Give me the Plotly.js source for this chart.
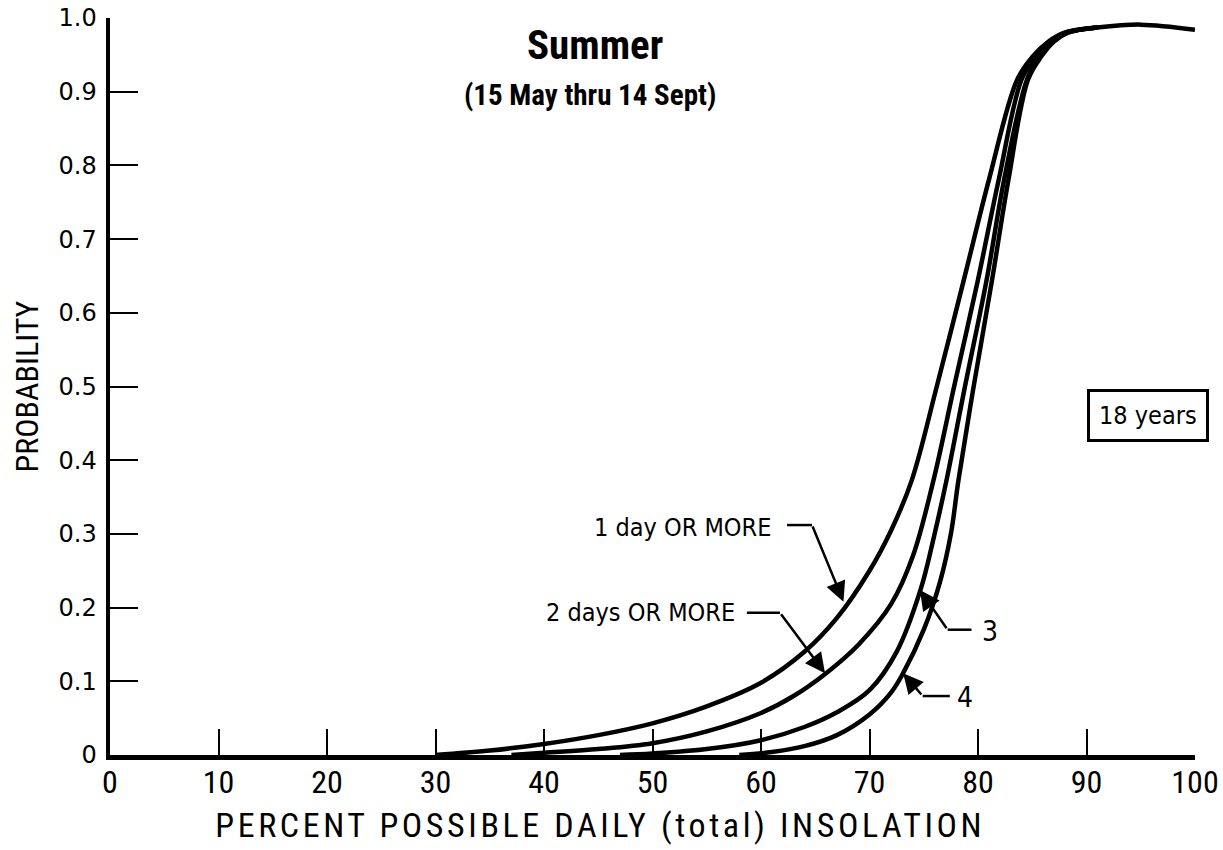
<!DOCTYPE html>
<html>
<head>
<meta charset="utf-8">
<script src="https://cdn.plot.ly/plotly-3.0.1.min.js"></script>
<style>
  html, body { margin: 0; padding: 0; background: #fff; }
  #chart { width: 1223px; height: 850px; }
</style>
</head>
<body>
<div id="chart"></div>
<script>
// Percent possible daily (total) insolation vs probability
var x1 = [30, 35, 40, 45, 50, 55, 60, 64, 67, 70, 72, 73.9, 76.2, 78.7, 81.0, 83.6, 85.0, 86.5, 88, 91, 95, 100];
var p1 = [0, 0.006, 0.015, 0.027, 0.043, 0.066, 0.098, 0.14, 0.186, 0.25, 0.305, 0.373, 0.5, 0.645, 0.78, 0.916, 0.947, 0.968, 0.98, 0.987, 0.991, 0.984];

var x2 = [37, 40, 45, 50, 55, 60, 63, 66, 69, 72, 74, 75.9, 77.8, 80.0, 81.9, 84.0, 85.3, 86.7, 88, 91];
var p2 = [0, 0.003, 0.008, 0.016, 0.032, 0.057, 0.08, 0.111, 0.15, 0.205, 0.27, 0.373, 0.5, 0.645, 0.78, 0.916, 0.948, 0.968, 0.98, 0.987];

var x3 = [47, 50, 55, 60, 64, 67, 70, 72.5, 74.7, 76, 77.1, 78.8, 80.8, 82.4, 84.5, 85.6, 86.9, 88.2, 91];
var p3 = [0, 0.002, 0.008, 0.02, 0.038, 0.058, 0.088, 0.14, 0.224, 0.3, 0.373, 0.5, 0.645, 0.78, 0.916, 0.947, 0.968, 0.98, 0.987];

var x4 = [58, 61, 64, 67, 70, 72, 73.1, 75, 76.5, 77.5, 78.2, 79.6, 81.3, 82.8, 84.6, 85.8, 87, 88.3, 91];
var p4 = [0, 0.004, 0.012, 0.027, 0.055, 0.085, 0.111, 0.17, 0.235, 0.30, 0.373, 0.5, 0.645, 0.78, 0.916, 0.947, 0.968, 0.98, 0.987];

var xTicks = [0, 10, 20, 30, 40, 50, 60, 70, 80, 90, 100];
var xTickText = ['0', '10', '20', '30', '40', '50', '60', '70', '80', '90', '100'];
var yTicks = [0, 0.1, 0.2, 0.3, 0.4, 0.5, 0.6, 0.7, 0.8, 0.9, 1.0];
var yTickText = ['0', '0.1', '0.2', '0.3', '0.4', '0.5', '0.6', '0.7', '0.8', '0.9', '1.0'];

// Callouts: label, label anchor, elbow start, elbow, arrow tip
var labels = ['1 day OR MORE', '2 days OR MORE', '3', '4'];
var labelX = [61.1, 57.8, 80.2, 77.9];
var labelP = [0.309, 0.193, 0.168, 0.078];
var labelAnchor = ['right', 'right', 'left', 'left'];
var legStartX = [62.4, 58.7, 79.4, 77.4];
var elbowX = [64.7, 61.75, 77.2, 74.9];
var elbowP = [0.312, 0.193, 0.170, 0.080];
var tipX = [67.6, 65.9, 74.65, 73.1];
var tipP = [0.208, 0.111, 0.224, 0.111];

var lineStyle = {color: '#000', width: 4.5, shape: 'spline', smoothing: 1.0};
function curve(x, y) {
  return {x: x, y: y, type: 'scatter', mode: 'lines', line: lineStyle, hoverinfo: 'skip', showlegend: false};
}
var data = [curve(x1, p1), curve(x2, p2), curve(x3, p3), curve(x4, p4)];

var COND = '"Roboto Condensed", "Liberation Sans Narrow", "DejaVu Sans Condensed", sans-serif';
var annFamily = '"DejaVu Sans Condensed", "DejaVu Sans", sans-serif';
var annotations = [];
var shapes = [];
for (var i = 0; i < labels.length; i++) {
  annotations.push({
    x: labelX[i], y: labelP[i], xref: 'x', yref: 'y', text: labels[i], showarrow: false,
    xanchor: labelAnchor[i], yanchor: 'middle',
    font: {family: annFamily, size: (i < 2 ? 25 : 28), color: '#000'}
  });
  shapes.push({
    type: 'line', xref: 'x', yref: 'y', x0: legStartX[i], y0: elbowP[i], x1: elbowX[i], y1: elbowP[i],
    line: {color: '#000', width: 2.5}
  });
  annotations.push({
    x: tipX[i], y: tipP[i], xref: 'x', yref: 'y', ax: elbowX[i], ay: elbowP[i], axref: 'x', ayref: 'y',
    text: '', showarrow: true, arrowhead: 2, arrowsize: 1.6, arrowwidth: 2.5, arrowcolor: '#000', standoff: 0
  });
}
// 18 years box
annotations.push({
  x: 0.957, y: 0.46, xref: 'paper', yref: 'paper', text: '18 years', showarrow: false,
  font: {family: annFamily, size: 25, color: '#000'},
  bordercolor: '#000', borderwidth: 3, borderpad: 9, bgcolor: '#fff', xanchor: 'center', yanchor: 'middle'
});
// Titles
annotations.push({
  x: 0.447, y: 1.0, xref: 'paper', yref: 'paper', yshift: -27, text: '<b>Summer</b>', showarrow: false,
  font: {family: COND, size: 41, color: '#000'},
  xanchor: 'center', yanchor: 'middle'
});
annotations.push({
  x: 0.442, y: 1.0, xref: 'paper', yref: 'paper', yshift: -77, text: '<b>(15 May thru 14 Sept)</b>', showarrow: false,
  font: {family: COND, size: 29, color: '#000'},
  xanchor: 'center', yanchor: 'middle'
});
// X axis title
var xTitleText = 'PERCENT POSSIBLE DAILY (total) INSOLATION';
annotations.push({
  x: 0.452, y: 0, xref: 'paper', yref: 'paper', yshift: -70, text: xTitleText, showarrow: false,
  font: {family: COND, size: 34, color: '#000'},
  xanchor: 'center', yanchor: 'middle'
});

var layout = {
  width: 1223, height: 850,
  margin: {l: 110, r: 28, t: 18, b: 95},
  paper_bgcolor: '#fff', plot_bgcolor: '#fff',
  showlegend: false,
  xaxis: {
    range: [0, 100], tickvals: xTicks, ticktext: xTickText,
    ticks: 'inside', ticklen: 26, tickwidth: 2, tickcolor: '#000',
    showline: true, linewidth: 4.5, linecolor: '#000', showgrid: false, zeroline: false,
    tickfont: {family: COND, size: 32, color: '#000'},
    ticklabelstandoff: -5,
    fixedrange: true
  },
  yaxis: {
    range: [0, 1.0], tickvals: yTicks, ticktext: yTickText,
    ticks: 'inside', ticklen: 28, tickwidth: 2, tickcolor: '#000',
    showline: true, linewidth: 4.5, linecolor: '#000', showgrid: false, zeroline: false,
    tickfont: {family: '"DejaVu Sans", sans-serif', size: 24, color: '#000'},
    ticklabelstandoff: 4,
    title: {text: 'PROBABILITY', standoff: 12, font: {family: COND, size: 32, color: '#000'}},
    fixedrange: true
  },
  annotations: annotations,
  shapes: shapes
};

Plotly.newPlot('chart', data, layout, {displayModeBar: false, staticPlot: true}).then(function () {
  var texts = document.querySelectorAll('#chart .annotation-text');
  texts.forEach(function (t) {
    if (t.textContent === xTitleText) { t.style.letterSpacing = '3.6px'; }
  });
});
</script>
</body>
</html>
